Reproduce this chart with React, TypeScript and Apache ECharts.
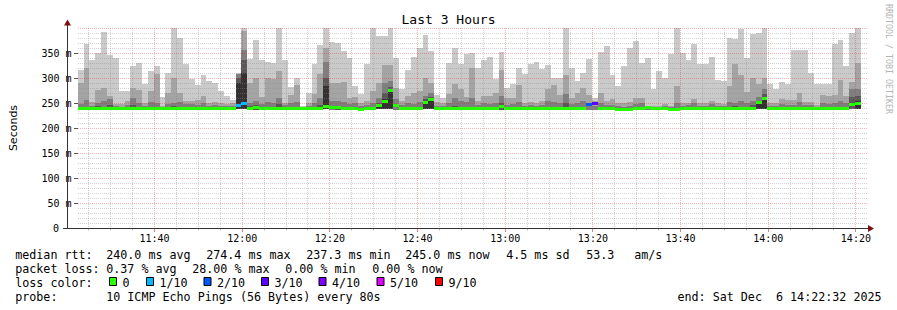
import React, { useEffect, useRef } from "react";
import * as echarts from "echarts";

// ---- time frame (seconds since midnight) ----
const START = 40952; // 11:22:32
const END = 51752; // 14:22:32
const STEP = 80; // probe step (s)
const FIRST_STEP = 40949; // start of first 80 s column

const xTickLabels = ["11:40", "12:00", "12:20", "12:40", "13:00", "13:20", "13:40", "14:00", "14:20"];
const yMajorTicks = [50, 100, 150, 200, 250, 300, 350, 400];
const yTickLabels = ["0", "50 m", "100 m", "150 m", "200 m", "250 m", "300 m", "350 m"];

// ---- smoke: sorted ping values per 80 s step (ms) ----
const maxRtt = [
  316, 368, 336, 351, 392, 347, 340, 275, 275, 324,
  330, 289, 314, 324, 263, 310, 400, 381, 328, 298,
  286, 306, 294, 290, 274, 265, 256, 310, 400, 338,
  376, 336, 332, 331, 400, 336, 282, 301, 244, 270,
  328, 366, 400, 372, 370, 355, 341, 285, 268, 329,
  400, 384, 384, 400, 341, 278, 316, 343, 360, 386,
  355, 267, 261, 331, 361, 328, 349, 351, 321, 336,
  343, 299, 353, 280, 288, 321, 309, 329, 333, 318,
  327, 300, 300, 400, 321, 295, 311, 338, 260, 353,
  364, 307, 285, 325, 361, 375, 331, 340, 279, 315,
  301, 348, 400, 351, 336, 369, 329, 329, 343, 296,
  295, 380, 378, 398, 340, 388, 390, 400, 289, 278,
  293, 288, 356, 356, 356, 311, 289, 289, 289, 368,
  376, 325, 390, 400,
];
const p9Rtt = [
  291, 321, 253, 276, 281, 264, 249, 249, 255, 281,
  276, 250, 275, 308, 245, 270, 300, 270, 255, 255,
  256, 265, 250, 252, 250, 248, 250, 309, 395, 290,
  300, 262, 300, 298, 315, 250, 267, 287, 242, 250,
  269, 308, 361, 291, 291, 293, 260, 262, 250, 255,
  275, 290, 327, 327, 281, 255, 265, 270, 275, 300,
  290, 252, 250, 269, 289, 278, 263, 321, 255, 265,
  265, 271, 316, 260, 260, 286, 250, 252, 250, 255,
  278, 287, 267, 307, 261, 270, 281, 267, 255, 271,
  255, 258, 250, 250, 252, 260, 260, 245, 245, 245,
  248, 245, 285, 250, 251, 258, 250, 250, 255, 250,
  248, 284, 329, 306, 273, 301, 288, 300, 250, 250,
  258, 256, 256, 271, 253, 253, 246, 267, 265, 267,
  296, 265, 293, 331,
];
const p8Rtt = [
  249, 256, 244, 250, 255, 258, 244, 243, 246, 260,
  250, 245, 252, 250, 243, 248, 250, 252, 248, 248,
  246, 250, 245, 246, 245, 244, 245, 308, 356, 250,
  255, 248, 252, 250, 260, 246, 250, 252, 240, 244,
  250, 260, 333, 255, 255, 252, 248, 250, 244, 246,
  250, 260, 290, 295, 258, 246, 250, 248, 252, 265,
  270, 245, 244, 250, 260, 255, 252, 260, 246, 250,
  248, 250, 265, 246, 248, 252, 245, 246, 245, 247,
  255, 252, 250, 268, 248, 250, 255, 250, 245, 250,
  246, 246, 244, 243, 245, 248, 250, 243, 242, 243,
  244, 242, 250, 245, 246, 250, 245, 245, 248, 245,
  244, 252, 250, 255, 250, 255, 262, 278, 245, 244,
  248, 247, 246, 252, 246, 246, 243, 250, 248, 250,
  255, 250, 278, 278,
];
const p7Rtt = [
  0, 0, 0, 244, 0, 247, 0, 0, 0, 246,
  0, 0, 0, 243, 0, 0, 244, 0, 0, 0,
  0, 0, 0, 0, 0, 0, 0, 300, 336, 244,
  246, 0, 0, 0, 248, 0, 0, 0, 0, 0,
  0, 246, 300, 0, 244, 0, 0, 0, 0, 0,
  0, 250, 270, 282, 0, 0, 0, 0, 0, 258,
  262, 0, 0, 0, 245, 0, 0, 0, 0, 0,
  0, 0, 250, 0, 0, 0, 0, 0, 0, 0,
  0, 0, 0, 250, 0, 0, 0, 0, 0, 0,
  0, 0, 0, 0, 0, 0, 0, 0, 0, 0,
  0, 0, 0, 0, 0, 0, 0, 0, 0, 0,
  0, 0, 244, 0, 0, 246, 255, 268, 0, 0,
  0, 0, 0, 0, 0, 0, 0, 0, 0, 0,
  0, 0, 262, 265,
];
const p6Rtt = [
  0, 0, 0, 0, 0, 0, 0, 0, 0, 0,
  0, 0, 0, 0, 0, 0, 0, 0, 0, 0,
  0, 0, 0, 0, 0, 0, 0, 290, 310, 0,
  0, 0, 0, 0, 0, 0, 0, 0, 0, 0,
  0, 0, 285, 0, 0, 0, 0, 0, 0, 0,
  0, 247, 258, 276, 0, 0, 0, 0, 0, 255,
  259, 0, 0, 0, 0, 0, 0, 0, 0, 0,
  0, 0, 0, 0, 0, 0, 0, 0, 0, 0,
  0, 0, 0, 0, 0, 0, 0, 0, 0, 0,
  0, 0, 0, 0, 0, 0, 0, 0, 0, 0,
  0, 0, 0, 0, 0, 0, 0, 0, 0, 0,
  0, 0, 0, 0, 0, 0, 252, 262, 0, 0,
  0, 0, 0, 0, 0, 0, 0, 0, 0, 0,
  0, 0, 0, 255,
];
const minRtt = [
  237, 237, 237, 237, 237, 237, 237, 237, 237, 237,
  237, 237, 237, 237, 237, 237, 237, 237, 237, 237,
  237, 237, 237, 237, 237, 237, 237, 238, 238, 237,
  237, 237, 237, 237, 237, 237, 237, 237, 237, 237,
  237, 237, 238, 237, 237, 237, 237, 237, 235, 237,
  237, 238, 238, 238, 237, 237, 237, 237, 237, 238,
  238, 237, 237, 237, 237, 237, 237, 237, 237, 237,
  237, 237, 237, 237, 237, 237, 237, 237, 237, 237,
  237, 237, 237, 237, 237, 237, 237, 237, 237, 237,
  237, 237, 235, 235, 235, 237, 237, 237, 237, 237,
  237, 235, 237, 237, 237, 237, 237, 237, 237, 237,
  237, 237, 237, 237, 237, 237, 238, 238, 237, 237,
  237, 237, 237, 237, 237, 237, 237, 237, 237, 237,
  237, 237, 238, 238,
];
const medianRtt = [
  239, 239, 239, 239, 239, 239, 239, 239, 239, 239,
  240, 240, 240, 240, 239, 239, 239, 239, 239, 239,
  239, 239, 239, 239, 239, 239, 239, 246, 250, 240,
  241, 239, 239, 239, 239, 239, 239, 239, 239, 239,
  239, 239, 243, 242, 241, 239, 239, 239, 237, 239,
  239, 245, 254, 275, 246, 239, 239, 239, 239, 252,
  257, 239, 239, 239, 239, 239, 239, 239, 239, 239,
  239, 239, 243, 239, 239, 239, 239, 239, 239, 239,
  239, 239, 239, 239, 239, 239, 239, 247, 249, 239,
  239, 239, 237, 237, 237, 239, 239, 242, 239, 239,
  239, 237, 238, 239, 239, 239, 239, 239, 239, 239,
  239, 239, 239, 239, 239, 239, 251, 260, 239, 239,
  239, 239, 239, 239, 239, 239, 239, 239, 239, 239,
  239, 239, 247, 249,
];
const lossCount = [
  0, 0, 0, 0, 0, 0, 0, 0, 0, 0,
  0, 0, 0, 0, 0, 0, 0, 0, 0, 0,
  0, 0, 0, 0, 0, 0, 0, 1, 1, 0,
  0, 0, 0, 0, 0, 0, 0, 0, 0, 0,
  0, 0, 0, 0, 0, 0, 0, 0, 0, 0,
  0, 0, 0, 0, 0, 0, 0, 0, 0, 0,
  0, 0, 0, 0, 0, 0, 0, 0, 0, 0,
  0, 0, 0, 0, 0, 0, 0, 0, 0, 0,
  0, 0, 0, 0, 0, 0, 0, 2, 3, 0,
  0, 0, 0, 0, 0, 0, 0, 0, 0, 0,
  0, 0, 0, 0, 0, 0, 0, 0, 0, 0,
  0, 0, 0, 0, 0, 0, 0, 0, 0, 0,
  0, 0, 0, 0, 0, 0, 0, 0, 0, 0,
  0, 0, 0, 0,
];

// ---- legend texts ----
const lossLabels = ["0", "1/10", "2/10", "3/10", "4/10", "5/10", "9/10"];
const lossLevels = [0, 1, 2, 3, 4, 5, 9];
const lossColors = ["#26ff00", "#00b8ff", "#0059ff", "#5e00ff", "#7e00ff", "#dd00ff", "#ff0000"];
const rttStats = ["240.0 ms avg", "274.4 ms max", "237.3 ms min", "245.0 ms now", "4.5 ms sd", "53.3", "am/s"];
const lossStats = ["0.37 % avg", "28.00 % max", "0.00 % min", "0.00 % now"];
const probeText = "10 ICMP Echo Pings (56 Bytes) every 80s";
const endText = ["end: Sat Dec", "6 14:22:32 2025"];

const MONO = '"DejaVu Sans Mono", monospace';
const SMOKE_COLORS = ["#cacaca", "#a4a4a4", "#7e7e7e", "#585858", "#323232"];
const MINOR_GRID = "rgba(140,140,140,0.4)";
const MAJOR_GRID = "rgba(225,40,40,0.35)";

const toSec = (s: string) => {
  const [h, m] = s.split(":").map(Number);
  return h * 3600 + m * 60;
};
const fmtTime = (v: number) => {
  const h = Math.floor(v / 3600);
  const m = Math.round((v - h * 3600) / 60);
  return `${String(h).padStart(2, "0")}:${String(m).padStart(2, "0")}`;
};

function lossColor(n: number) {
  const i = lossLevels.indexOf(n);
  return i >= 0 ? lossColors[i] : lossColors[lossColors.length - 1];
}

function bandSeries(tops: number[], color: string) {
  const data: number[][] = [];
  tops.forEach((top, k) => {
    if (!top) return;
    const t0 = FIRST_STEP + k * STEP;
    data.push([t0, t0 + STEP, minRtt[k], top]);
  });
  return {
    type: "custom",
    z: 2,
    silent: true,
    encode: { x: [0, 1], y: [2, 3] },
    data,
    renderItem: (params: any, api: any) => {
      const a = api.coord([api.value(0), api.value(3)]);
      const b = api.coord([api.value(1), api.value(2)]);
      const cs = params.coordSys;
      const x0 = Math.max(Math.round(a[0]), cs.x);
      const x1 = Math.min(Math.round(b[0]), cs.x + cs.width);
      const y0 = Math.round(a[1]);
      const y1 = Math.round(b[1]);
      if (x1 <= x0 || y1 <= y0) return null;
      return { type: "rect", shape: { x: x0, y: y0, width: x1 - x0, height: y1 - y0 }, style: { fill: color, stroke: null } };
    },
  };
}

function lineEl(x1: number, y1: number, x2: number, y2: number, stroke: string, dash?: number[]) {
  return {
    type: "line",
    shape: { x1, y1, x2, y2 },
    style: { stroke, fill: null, lineWidth: 1, lineDash: dash || null },
  };
}

export default function App() {
  const ref = useRef<HTMLDivElement>(null);

  useEffect(() => {
    if (!ref.current) return;
    const chart = echarts.init(ref.current, null, { renderer: "svg" });

    const majorTimes = xTickLabels.map(toSec);
    // grid lines: [time, value, kind]  kind 0 minor-v, 1 major-v, 2 minor-h, 3 major-h
    const gridData: number[][] = [];
    for (let t = toSec("11:25"); t <= END; t += 300) {
      gridData.push([t, 0, majorTimes.includes(t) ? 1 : 0]);
    }
    for (let v = 10; v <= 400; v += 10) {
      gridData.push([START, v, yMajorTicks.includes(v) ? 3 : 2]);
    }
    // y tick labels: [time, value, labelIndex]
    const yLabelData = yTickLabels.map((_, i) => [START, i * 50, i]);

    const medianData = medianRtt.map((m, k) => {
      const t0 = FIRST_STEP + k * STEP;
      return [t0, t0 + STEP, m, lossCount[k]];
    });

    const graphics: any[] = [];
    const txt = (x: number, y: number, text: string) =>
      graphics.push({
        type: "text",
        x,
        y,
        silent: true,
        style: { text, font: `11.7px ${MONO}`, fill: "#000", align: "left", verticalAlign: "middle" },
      });
    const rttX = [107, 207, 307, 406, 507, 587, 635];
    txt(15.2, 254.5, "median rtt:");
    rttStats.forEach((s, i) => txt(rttX[i] - 0.8, 254.5, s));
    const lossX = [107, 193, 286, 373];
    txt(15.2, 268.5, "packet loss:");
    lossStats.forEach((s, i) => txt(lossX[i] - 0.8, 268.5, s));
    txt(15.2, 282.5, "loss color:");
    const boxX = [109, 146, 203.5, 261, 318.5, 376.5, 435];
    lossLabels.forEach((l, i) => {
      graphics.push({
        type: "rect",
        silent: true,
        shape: { x: boxX[i] + 0.5, y: 277.5, width: 7, height: 8 },
        style: { fill: lossColors[i], stroke: "#000", lineWidth: 1 },
      });
      txt(boxX[i] + 13.5, 282.5, l);
    });
    txt(15.2, 296.5, "probe:");
    txt(106.2, 296.5, probeText);
    txt(677.5, 296.5, endText[0]);
    txt(776, 296.5, endText[1]);

    // watermark
    graphics.push({
      type: "text",
      x: 888.5,
      y: 59,
      rotation: -Math.PI / 2,
      silent: true,
      style: { text: "RRDTOOL / TOBI OETIKER", font: `8.3px ${MONO}`, fill: "#b4b4b4", align: "center", verticalAlign: "middle" },
    });
    // axis lines and arrows
    graphics.push({ type: "line", silent: true, z: 10, shape: { x1: 63, y1: 228.5, x2: 869, y2: 228.5 }, style: { stroke: "#333", lineWidth: 1, fill: null } });
    graphics.push({ type: "line", silent: true, z: 10, shape: { x1: 67.5, y1: 228.5, x2: 67.5, y2: 24 }, style: { stroke: "#333", lineWidth: 1, fill: null } });
    graphics.push({ type: "polygon", silent: true, z: 10, shape: { points: [[868, 225], [874, 228.5], [868, 232]] }, style: { fill: "#7f1010" } });
    graphics.push({ type: "polygon", silent: true, z: 10, shape: { points: [[64, 25.5], [67.5, 19.5], [71, 25.5]] }, style: { fill: "#7f1010" } });

    const option: any = {
      animation: false,
      backgroundColor: "#ffffff",
      title: {
        text: "Last 3 Hours",
        left: "center",
        top: 8,
        textStyle: { fontFamily: MONO, fontSize: 13, fontWeight: "normal", color: "#000" },
      },
      grid: { left: 67, top: 28, width: 800, height: 200, containLabel: false },
      xAxis: {
        type: "value",
        min: START,
        max: END,
        axisLine: { show: false },
        axisTick: { show: false },
        splitLine: { show: false },
        axisLabel: {
          customValues: majorTimes,
          formatter: (v: number) => fmtTime(v),
          fontFamily: MONO,
          fontSize: 10,
          color: "#000",
          margin: 5,
        },
      },
      yAxis: {
        type: "value",
        min: 0,
        max: 400,
        interval: 50,
        name: "Seconds",
        nameLocation: "middle",
        nameGap: 59,
        nameRotate: 90,
        nameTextStyle: { fontFamily: '"DejaVu Sans", sans-serif', fontSize: 11, color: "#000" },
        axisLine: { show: false },
        axisTick: { show: false },
        splitLine: { show: false },
        axisLabel: { show: false },
      },
      series: [
        bandSeries(maxRtt, SMOKE_COLORS[0]),
        bandSeries(p9Rtt, SMOKE_COLORS[1]),
        bandSeries(p8Rtt, SMOKE_COLORS[2]),
        bandSeries(p7Rtt, SMOKE_COLORS[3]),
        bandSeries(p6Rtt, SMOKE_COLORS[4]),
        {
          type: "custom",
          z: 3,
          silent: true,
          encode: { x: 0, y: 1 },
          data: gridData,
          renderItem: (params: any, api: any) => {
            const kind = api.value(2);
            if (kind <= 1) {
              const t = api.value(0);
              const pb = api.coord([t, 0]);
              const pt = api.coord([t, 400]);
              const x = Math.round(pb[0] - 0.5) + 0.5;
              const yb = Math.round(pb[1]);
              const yt = Math.round(pt[1]);
              const major = kind === 1;
              return {
                type: "group",
                children: [
                  lineEl(x, yt, x, yb, major ? MAJOR_GRID : MINOR_GRID, [1, 1]),
                  lineEl(x, yb, x, yb + (major ? 4 : 2.5), major ? "rgba(225,40,40,0.6)" : "rgba(140,140,140,0.6)"),
                ],
              };
            }
            const v = api.value(1);
            const pl = api.coord([START, v]);
            const pr = api.coord([END, v]);
            const y = Math.round(pl[1] - 0.5) + 0.5;
            const xl = Math.round(pl[0]);
            const xr = Math.round(pr[0]);
            const major = kind === 3;
            return lineEl(xl, y, xr, y, major ? MAJOR_GRID : MINOR_GRID, [1, 1]);
          },
        },
        {
          type: "custom",
          z: 4,
          silent: true,
          encode: { x: [0, 1], y: 2 },
          data: medianData,
          renderItem: (params: any, api: any) => {
            const m = api.value(2);
            const a = api.coord([api.value(0), m + 3]);
            const b = api.coord([api.value(1), m - 3]);
            const cs = params.coordSys;
            const x0 = Math.max(Math.round(a[0]), cs.x);
            const x1 = Math.min(Math.round(b[0]), cs.x + cs.width);
            const y0 = Math.round(a[1]);
            const y1 = Math.round(b[1]);
            if (x1 <= x0) return null;
            return {
              type: "rect",
              shape: { x: x0, y: y0, width: x1 - x0, height: Math.max(1, y1 - y0) },
              style: { fill: lossColor(api.value(3)), stroke: null },
            };
          },
        },
        {
          type: "custom",
          z: 5,
          silent: true,
          encode: { x: 0, y: 1 },
          data: yLabelData,
          renderItem: (params: any, api: any) => {
            const p = api.coord([api.value(0), api.value(1)]);
            const i = api.value(2);
            const text = yTickLabels[i];
            const x = Math.round(p[0]);
            const y = Math.round(p[1]) + 0.5;
            return {
              type: "group",
              children: [
                {
                  type: "text",
                  x: x - 6.5 - (i === 0 ? 12.5 : 0),
                  y,
                  style: { text, font: `10px ${MONO}`, fill: "#000", align: "right", verticalAlign: "middle" },
                },
                lineEl(x - 4, y, x, y, "#555"),
              ],
            };
          },
        },
      ],
      graphic: graphics,
    };

    chart.setOption(option);
    return () => chart.dispose();
  }, []);

  return (
    <div
      ref={ref}
      style={{ position: "absolute", left: 0, top: 0, width: 897, height: 310, background: "#fff" }}
    />
  );
}
